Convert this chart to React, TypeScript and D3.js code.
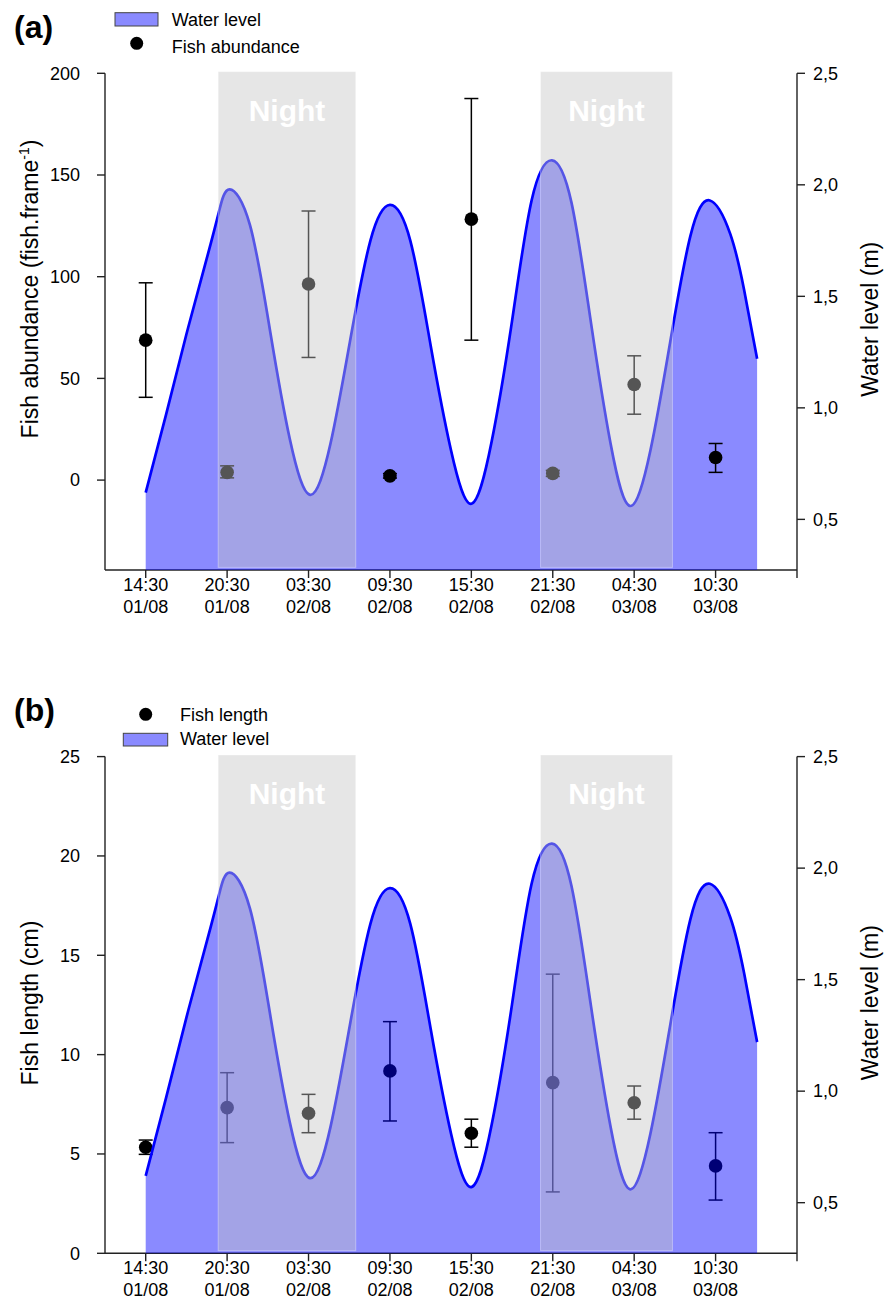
import React from 'react';
import * as d3 from 'd3';

// sampling occasions (x axis)
const timeLabels = ['14:30', '20:30', '03:30', '09:30', '15:30', '21:30', '04:30', '10:30'];
const dateLabels = ['01/08', '01/08', '02/08', '02/08', '02/08', '02/08', '03/08', '03/08'];

// water level (m), x in sampling-occasion units
const levelX = [
  0, 0.25, 0.5, 0.75, 0.9, 1.03, 1.28, 1.53, 1.77, 2.02, 2.27, 2.51, 2.76, 3.0,
  3.25, 3.5, 3.75, 4.0, 4.25, 4.5, 4.74, 4.99, 5.23, 5.47, 5.71, 5.95,
  6.2, 6.44, 6.69, 6.93, 7.18, 7.35, 7.51,
];
const levelY = [
  0.62, 0.97, 1.33, 1.67, 1.88, 1.98, 1.82, 1.34, 0.86, 0.61, 0.84, 1.3, 1.75, 1.91,
  1.75, 1.28, 0.81, 0.57, 0.85, 1.39, 1.93, 2.11, 1.92, 1.38, 0.84, 0.56,
  0.81, 1.29, 1.77, 1.93, 1.78, 1.53, 1.22,
];

// night periods
const nightStart = [0.89, 4.85];
const nightEnd = [2.58, 6.47];

// (a) fish abundance, mean and error bar ends
const abundanceMean = [68.8, 3.8, 96.4, 2.1, 128.3, 3.3, 47.0, 11.1];
const abundanceHigh = [97.0, 7.0, 132.3, 3.2, 187.6, 4.8, 61.1, 18.0];
const abundanceLow = [40.7, 1.1, 60.3, 1.0, 68.8, 1.8, 32.4, 3.8];

// (b) fish length, mean and error bar ends
const lengthMean = [5.34, 7.33, 7.05, 9.18, 6.04, 8.59, 7.58, 4.4];
const lengthHigh = [5.7, 9.09, 8.0, 11.66, 6.75, 14.05, 8.42, 6.07];
const lengthLow = [4.98, 5.57, 6.07, 6.66, 5.34, 3.09, 6.75, 2.68];

const abundanceTicks = [0, 50, 100, 150, 200];
const lengthTicks = [0, 5, 10, 15, 20, 25];
const levelTicks = [0.5, 1.0, 1.5, 2.0, 2.5];

const W = 894;
const H = 1309;
const FONT = '"Liberation Sans", Arial, sans-serif';
const PLOT_H = 496.7;
const WATER_FILL = 'rgba(0,0,255,0.46)';
const NIGHT_FILL = 'rgba(197,197,197,0.43)';

const x = d3.scaleLinear().domain([-0.5, 8.0]).range([105, 797]);
const commaFmt = (v) => d3.format('.1f')(v).replace('.', ',');

const Panel = ({ top, label, leftDomain, leftTicks, mean, high, low, pointsOnTop, leftTitle, leftTitleY, legend }) => {
  const bottom = top + PLOT_H;
  const yL = d3.scaleLinear().domain(leftDomain).range([bottom, top]);
  const yR = d3.scaleLinear().domain([0.273, 2.5]).range([bottom, top]);
  const pts = levelX.map((v, i) => [v, levelY[i]]);

  const area = d3
    .area()
    .x((d) => x(d[0]))
    .y0(bottom)
    .y1((d) => yR(d[1]))
    .curve(d3.curveNatural);
  const line = d3
    .line()
    .x((d) => x(d[0]))
    .y((d) => yR(d[1]))
    .curve(d3.curveNatural);

  const points = (
    <g>
      {mean.map((m, i) => (
        <g key={i} stroke="#000" strokeWidth={1.5}>
          <line x1={x(i)} x2={x(i)} y1={yL(high[i])} y2={yL(low[i])} />
          <line x1={x(i) - 7} x2={x(i) + 7} y1={yL(high[i])} y2={yL(high[i])} />
          <line x1={x(i) - 7} x2={x(i) + 7} y1={yL(low[i])} y2={yL(low[i])} />
          <circle cx={x(i)} cy={yL(m)} r={6.8} fill="#000" stroke="none" />
        </g>
      ))}
    </g>
  );

  return (
    <g fontFamily={FONT}>
      <text x={14} y={top - 35.5} fontSize={32} fontWeight="bold">{label}</text>
      {legend}

      {/* axes */}
      <g stroke="#222" strokeWidth={1.4} fill="none">
        <line x1={105} x2={105} y1={top} y2={bottom} />
        <line x1={797} x2={797} y1={top} y2={bottom + 8} />
        <line x1={105} x2={797} y1={bottom} y2={bottom} />
        {leftTicks.map((t) => (
          <line key={t} x1={97} x2={105} y1={yL(t)} y2={yL(t)} />
        ))}
        {levelTicks.map((t) => (
          <line key={t} x1={797} x2={805} y1={yR(t)} y2={yR(t)} />
        ))}
        {timeLabels.map((t, i) => (
          <line key={i} x1={x(i)} x2={x(i)} y1={bottom} y2={bottom + 8} />
        ))}
      </g>
      <g fontSize={18} fill="#000">
        {leftTicks.map((t) => (
          <text key={t} x={80} y={yL(t)} dy="0.35em" textAnchor="end">{t}</text>
        ))}
        {levelTicks.map((t) => (
          <text key={t} x={813} y={yR(t)} dy="0.35em">{commaFmt(t)}</text>
        ))}
      </g>
      <g fontSize={18} textAnchor="middle">
        {timeLabels.map((t, i) => (
          <text key={i} x={x(i)} y={bottom + 21}>{t}</text>
        ))}
        {dateLabels.map((t, i) => (
          <text key={i} x={x(i)} y={bottom + 43}>{t}</text>
        ))}
      </g>
      <text transform={`translate(38,${leftTitleY}) rotate(-90)`} textAnchor="middle" fontSize={23}>
        {leftTitle}
      </text>
      <text transform={`translate(878,${top + 246}) rotate(-90)`} textAnchor="middle" fontSize={23}>
        Water level (m)
      </text>

      {/* data */}
      {!pointsOnTop && points}
      <path d={area(pts)} fill={WATER_FILL} />
      <path d={line(pts)} fill="none" stroke="#0000ff" strokeWidth={2.7} />
      {pointsOnTop && points}

      {nightStart.map((s, i) => (
        <g key={i}>
          <rect
            x={x(s)}
            y={top - 1.6}
            width={x(nightEnd[i]) - x(s)}
            height={PLOT_H - 1}
            fill={NIGHT_FILL}
            stroke="rgba(255,255,255,0.35)"
            strokeWidth={1}
          />
          <text
            x={(x(s) + x(nightEnd[i])) / 2}
            y={top + 47.7}
            textAnchor="middle"
            fontSize={30}
            fontWeight="bold"
            fill="#fff"
          >
            Night
          </text>
        </g>
      ))}
    </g>
  );
};

export default function App() {
  const topA = 73.3;
  const topB = 756.6;
  return (
    <svg width={W} height={H} style={{ position: 'absolute', left: 0, top: 0, background: '#fff' }}>
      <Panel
        top={topA}
        label="(a)"
        leftDomain={[-44.2, 200]}
        leftTicks={abundanceTicks}
        mean={abundanceMean}
        high={abundanceHigh}
        low={abundanceLow}
        pointsOnTop={true}
        leftTitleY={289}
        leftTitle={
          <>
            Fish abundance (fish.frame
            <tspan dy={-9} fontSize={14}>-1</tspan>
            <tspan dy={9}>)</tspan>
          </>
        }
        legend={
          <g fontSize={18}>
            <rect x={115} y={topA - 60.6} width={43} height={13.3} fill={WATER_FILL} stroke="#444" />
            <text x={171.7} y={topA - 47.3}>Water level</text>
            <circle cx={136.7} cy={topA - 30} r={6.5} fill="#000" />
            <text x={171.7} y={topA - 20}>Fish abundance</text>
          </g>
        }
      />
      <Panel
        top={topB}
        label="(b)"
        leftDomain={[0, 25]}
        leftTicks={lengthTicks}
        mean={lengthMean}
        high={lengthHigh}
        low={lengthLow}
        pointsOnTop={false}
        leftTitleY={1003}
        leftTitle="Fish length (cm)"
        legend={
          <g fontSize={18}>
            <circle cx={145.7} cy={topB - 42.3} r={6.5} fill="#000" />
            <text x={180} y={topB - 35.6}>Fish length</text>
            <rect x={123.3} y={topB - 23.3} width={44.4} height={12.7} fill={WATER_FILL} stroke="#444" />
            <text x={180} y={topB - 11.6}>Water level</text>
          </g>
        }
      />
    </svg>
  );
}
